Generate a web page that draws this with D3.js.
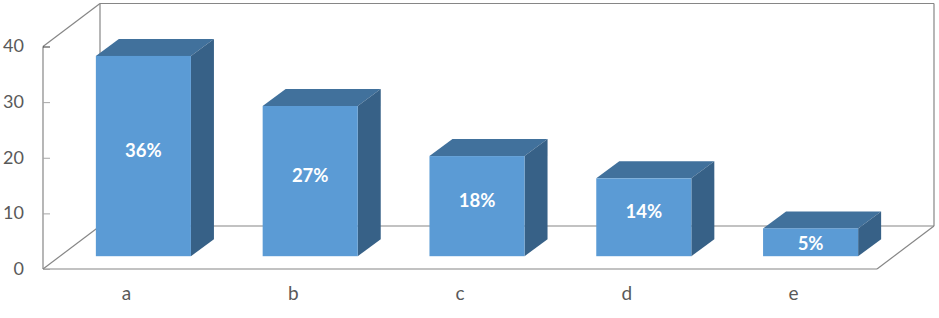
<!DOCTYPE html>
<html>
<head>
<meta charset="utf-8">
<script src="https://cdn.jsdelivr.net/npm/d3@7"></script>
<style>
  html, body { margin: 0; padding: 0; background: #fff; }
  svg { display: block; }
  text { font-family: Lato, "Open Sans", sans-serif; }
</style>
</head>
<body>
<div id="chart"></div>
<script>
var categories = ["a", "b", "c", "d", "e"];
var values = [36, 27, 18, 14, 5];
var percentLabels = ["36%", "27%", "18%", "14%", "5%"];
var yTicks = [0, 10, 20, 30, 40];

var width = 939;
var height = 318;

// front edge of the floor, the wall sits wallDx/wallDy behind it
var x = d3.scaleBand().domain(categories).range([43, 877]).paddingInner(0.43).paddingOuter(0.215);
var y = d3.scaleLinear().domain([0, 40]).range([269, 46.5]);

var wallDx = 57, wallDy = -43;
// bars stand partway into the floor
var barDx = 17, barDy = -12.8;
var sideDx = 23, sideDy = -17;

var svg = d3.select("#chart")
  .append("svg")
    .attr("width", width)
    .attr("height", height);

var x0 = x.range()[0], x1 = x.range()[1];
var y0 = y(0), yTop = y(40);

var frame = [
  [[x0 + wallDx, y0 + wallDy], [x1 + wallDx, y0 + wallDy]],
  [[x0 + wallDx, yTop + wallDy], [x1 + wallDx, yTop + wallDy]],
  [[x0 + wallDx, yTop + wallDy], [x0 + wallDx, y0 + wallDy]],
  [[x1 + wallDx, yTop + wallDy], [x1 + wallDx, y0 + wallDy]],
  [[x0, yTop], [x0 + wallDx, yTop + wallDy]],
  [[x0, y0], [x0 + wallDx, y0 + wallDy]],
  [[x1, y0], [x1 + wallDx, y0 + wallDy]],
  [[x0, yTop], [x0, y0]],
  [[x0, y0], [x1, y0]]
];

svg.selectAll("line.frame")
  .data(frame)
  .enter()
  .append("line")
    .attr("class", "frame")
    .attr("x1", function(d) {return d[0][0]})
    .attr("y1", function(d) {return d[0][1]})
    .attr("x2", function(d) {return d[1][0]})
    .attr("y2", function(d) {return d[1][1]})
    .attr("stroke", "#868686")
    .attr("stroke-width", 1.2);

// y axis ticks point inward
svg.append("g")
  .attr("transform", "translate(" + x0 + ",0)")
  .call(d3.axisLeft(y).tickValues(yTicks).tickSize(-7).tickPadding(13))
  .call(function(g) {
    g.select(".domain").remove();
    g.selectAll("line").attr("stroke", function(d) {return d == 40 ? "#333" : "#a6a6a6"});
    g.selectAll("text").attr("fill", "#595959").style("font-size", "18px").attr("dy", "0.3em").attr("x", -19);
  });

var xAxis = svg.append("g")
  .attr("transform", "translate(0," + y0 + ")")
  .call(d3.axisBottom(x).tickSize(0).tickPadding(18));
xAxis.select(".domain").remove();
xAxis.selectAll("text").attr("fill", "#595959").style("font-size", "19px");

var bars = svg.selectAll("g.bar")
  .data(categories)
  .enter()
  .append("g")
    .attr("class", "bar")
    .attr("transform", function(d) {return "translate(" + (x(d) + barDx) + "," + barDy + ")"});

var bw = x.bandwidth();

bars.append("path")
  .attr("fill", "#41719c")
  .attr("d", function(d, i) {
    var t = y(values[i]);
    return "M0," + t + "L" + sideDx + "," + (t + sideDy) + "L" + (bw + sideDx) + "," + (t + sideDy) + "L" + bw + "," + t + "Z";
  });

bars.append("path")
  .attr("fill", "#376187")
  .attr("d", function(d, i) {
    var t = y(values[i]);
    return "M" + bw + "," + t + "L" + (bw + sideDx) + "," + (t + sideDy) + "L" + (bw + sideDx) + "," + (y0 + sideDy) + "L" + bw + "," + y0 + "Z";
  });

bars.append("rect")
  .attr("fill", "#5b9bd5")
  .attr("x", 0)
  .attr("width", bw)
  .attr("y", function(d, i) {return y(values[i])})
  .attr("height", function(d, i) {return y0 - y(values[i])});

bars.append("text")
  .attr("x", bw / 2)
  .attr("y", function(d, i) {
    var t = y(values[i]);
    return Math.max((t + y0) / 2 - 5.5, t + 15);
  })
  .attr("dy", "0.35em")
  .attr("text-anchor", "middle")
  .attr("fill", "#fff")
  .style("font-size", "18.5px")
  .style("font-weight", "700")
  .text(function(d, i) {return percentLabels[i]});
</script>
</body>
</html>
